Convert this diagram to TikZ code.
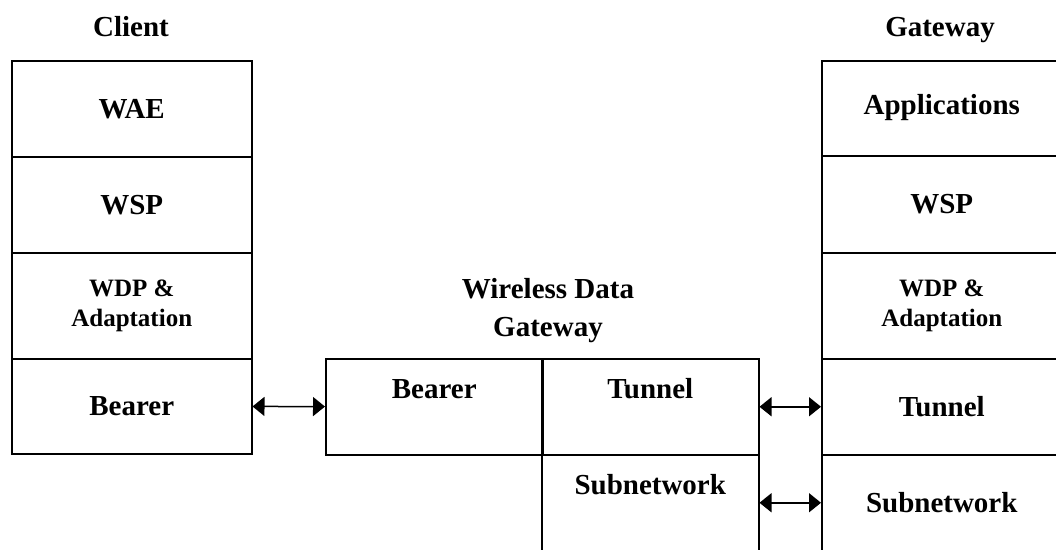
\documentclass[tikz,border=0pt]{standalone}
\usepackage{fontspec}
\setmainfont{Liberation Serif}
\usetikzlibrary{arrows.meta}
\begin{document}
\begin{tikzpicture}[x=1pt, y=-1pt, line width=1.5pt,
	layer/.style = {draw, rectangle, anchor=north west, minimum width=240pt, inner sep=0pt, font=\fontsize{29}{32}\selectfont\bfseries},
	small/.style = {font=\fontsize{25}{30}\selectfont\bfseries, align=center},
	cell/.style = {draw, rectangle, anchor=north west, minimum width=217pt, minimum height=96pt, inner sep=0pt},
	intext/.style = {label={[anchor=center, yshift=-31pt, font=\fontsize{29}{32}\selectfont\bfseries]north:#1}},
	title/.style = {font=\fontsize{29}{38}\selectfont\bfseries, align=center},
	link/.style = {{Triangle[length=12pt,width=19pt]}-{Triangle[length=12pt,width=19pt]}, line width=1.5pt}]
	\useasboundingbox (0,0) rectangle (1056,549);
	\clip (0,0) rectangle (1056,549);
	\fill[white] (0,0) rectangle (1056,549);
	
	% client stack
	\node[title] (client) at (131,27) {Client};
	\node[layer, minimum height=96pt] (cwae) at (11,60) {WAE};
	\node[layer, minimum height=96pt] (cwsp) at (11,156) {WSP};
	\node[layer, minimum height=106pt, small] (cwdp) at (11,252) {WDP \&\\Adaptation};
	\node[layer, minimum height=95pt] (cbear) at (11,358) {Bearer};
	
	% wireless data gateway
	\node[title] (wdg) at (548,311) {Wireless Data\\Gateway};
	\node[cell, intext=Bearer] (mbear) at (325,358) {};
	\node[cell, intext=Tunnel] (mtun) at (541,358) {};
	\node[cell, intext=Subnetwork] (msub) at (541,454) {};
	
	% gateway stack
	\node[title] (gw) at (940,30) {Gateway};
	\node[layer, minimum height=95pt] (gapp) at (821,60) {\raisebox{7pt}{Applications}};
	\node[layer, minimum height=97pt] (gwsp) at (821,155) {WSP};
	\node[layer, minimum height=106pt, small] (gwdp) at (821,252) {WDP \&\\Adaptation};
	\node[layer, minimum height=96pt] (gtun) at (821,358) {Tunnel};
	\node[layer, minimum height=96pt] (gsub) at (821,454) {Subnetwork};
	
	\draw[link] (cbear) -- (mbear);
	\draw[link] (mtun) -- (gtun);
	\draw[link] (msub) -- (gsub);
	
\end{tikzpicture}
\end{document}
